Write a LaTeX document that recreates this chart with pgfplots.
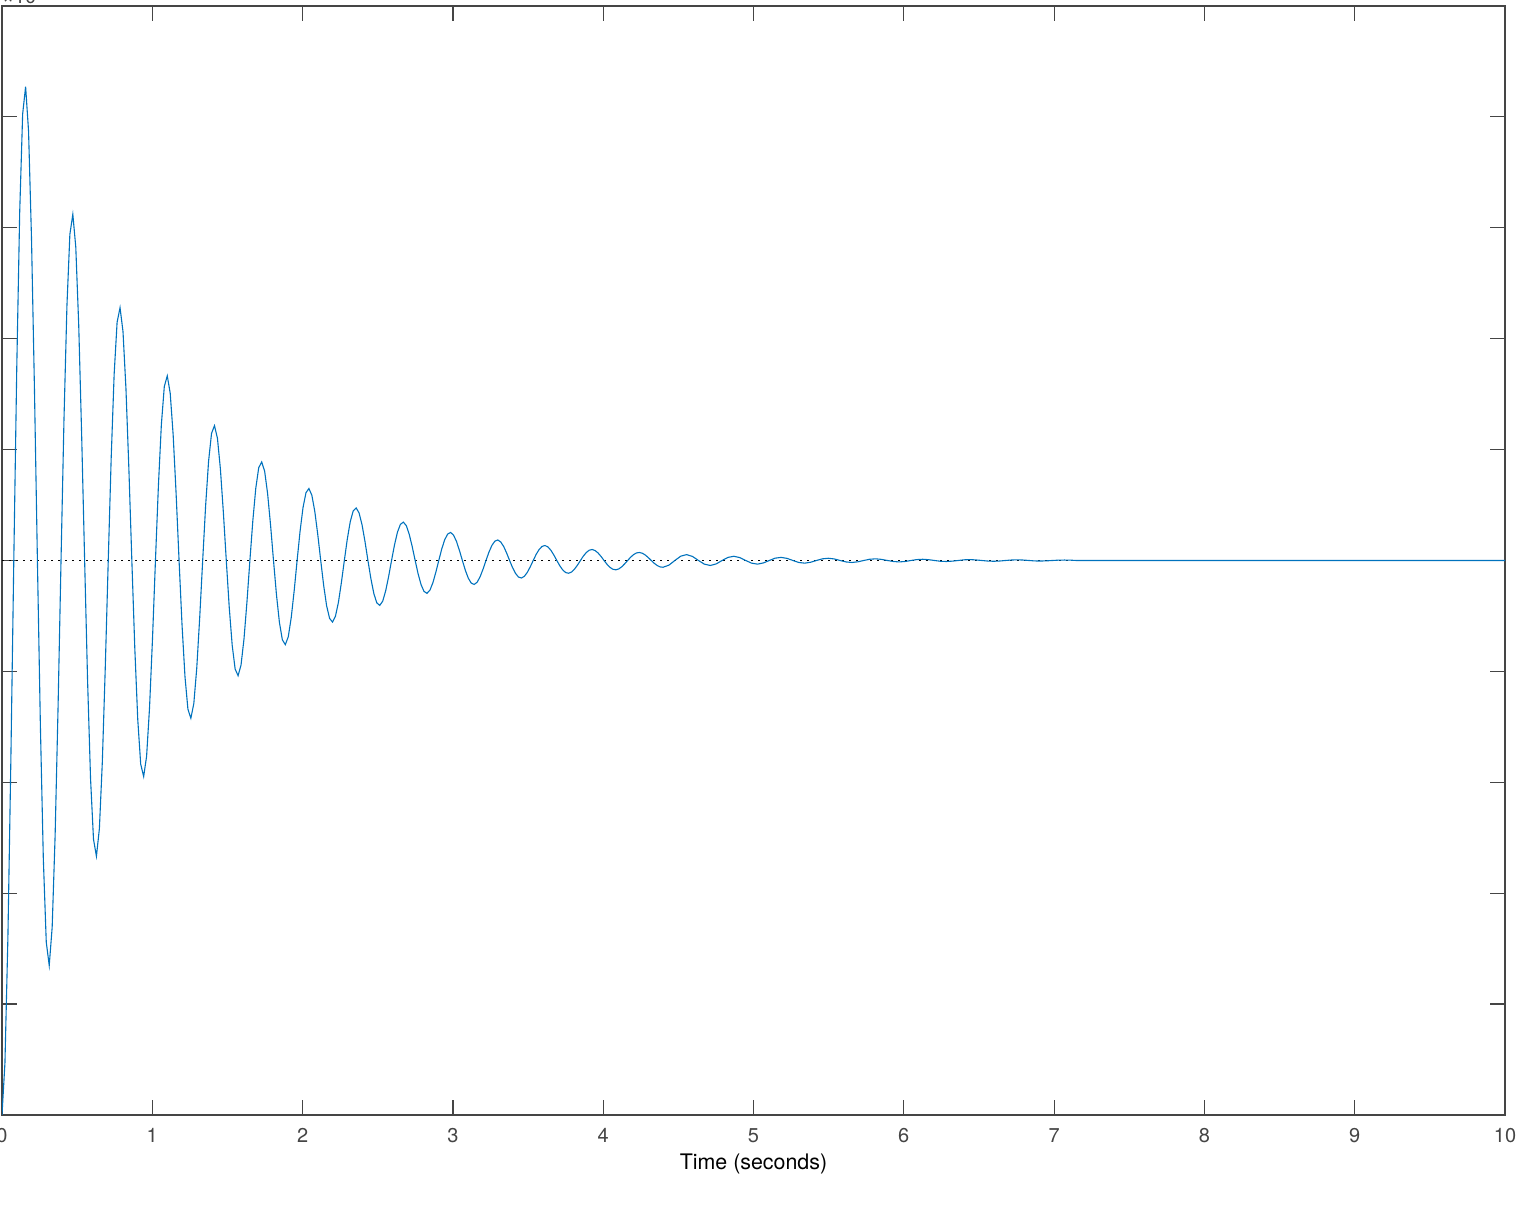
\documentclass[border=0pt]{standalone}
\usepackage{fontspec}
\setmainfont{TeX Gyre Heros}
\usepackage{pgfplots}
\usepackage{pgfplotstable}
\pgfplotsset{compat=1.18}
\definecolor{mblue}{rgb}{0,0.447,0.741}
\definecolor{axgray}{rgb}{0.27,0.27,0.27}
\pgfplotstableread{
t y
0.0000 -5.000
0.0196 -4.530
0.0393 -3.399
0.0589 -1.804
0.0785 0
0.0982 1.735
0.1178 3.143
0.1374 4.026
0.1571 4.273
0.1767 3.871
0.1963 2.905
0.2160 1.542
0.2356 0
0.2553 -1.482
0.2749 -2.686
0.2945 -3.441
0.3142 -3.652
0.3338 -3.308
0.3534 -2.483
0.3731 -1.318
0.3927 0
0.4123 1.267
0.4320 2.295
0.4516 2.941
0.4712 3.121
0.4909 2.827
0.5105 2.122
0.5301 1.126
0.5498 0
0.5694 -1.083
0.5890 -1.962
0.6087 -2.513
0.6283 -2.667
0.6480 -2.417
0.6676 -1.814
0.6872 -0.962
0.7069 0
0.7265 0.925
0.7461 1.677
0.7658 2.148
0.7854 2.280
0.8050 2.065
0.8247 1.550
0.8443 0.822
0.8639 0
0.8836 -0.791
0.9032 -1.433
0.9228 -1.836
0.9425 -1.948
0.9621 -1.765
0.9817 -1.325
1.0014 -0.703
1.0210 0
1.0407 0.676
1.0603 1.225
1.0799 1.569
1.0996 1.665
1.1192 1.508
1.1388 1.132
1.1585 0.601
1.1781 0
1.1977 -0.578
1.2174 -1.047
1.2370 -1.341
1.2566 -1.423
1.2763 -1.289
1.2959 -0.968
1.3155 -0.513
1.3352 0
1.3548 0.494
1.3744 0.894
1.3941 1.146
1.4137 1.216
1.4334 1.102
1.4530 0.827
1.4726 0.439
1.4923 0
1.5119 -0.422
1.5315 -0.764
1.5512 -0.979
1.5708 -1.039
1.5904 -0.942
1.6101 -0.707
1.6297 -0.375
1.6493 0
1.6690 0.361
1.6886 0.653
1.7082 0.837
1.7279 0.888
1.7475 0.805
1.7671 0.604
1.7868 0.320
1.8064 0
1.8261 -0.308
1.8457 -0.558
1.8653 -0.715
1.8850 -0.759
1.9046 -0.688
1.9242 -0.516
1.9439 -0.274
1.9635 0
1.9831 0.263
2.0028 0.477
2.0224 0.611
2.0420 0.649
2.0617 0.588
2.0813 0.441
2.1009 0.234
2.1206 0
2.1402 -0.225
2.1598 -0.408
2.1795 -0.522
2.1991 -0.555
2.2187 -0.502
2.2384 -0.377
2.2580 -0.200
2.2777 0
2.2973 0.192
2.3169 0.349
2.3366 0.447
2.3562 0.474
2.3758 0.429
2.3955 0.322
2.4151 0.171
2.4347 0
2.4544 -0.164
2.4740 -0.298
2.4936 -0.382
2.5133 -0.405
2.5329 -0.367
2.5525 -0.275
2.5722 -0.146
2.5918 0
2.6114 0.140
2.6311 0.255
2.6507 0.326
2.6704 0.346
2.6900 0.314
2.7096 0.235
2.7293 0.125
2.7489 0
2.7685 -0.120
2.7882 -0.218
2.8078 -0.279
2.8274 -0.296
2.8471 -0.268
2.8667 -0.201
2.8863 -0.107
2.9060 0
2.9256 0.103
2.9452 0.186
2.9649 0.238
2.9845 0.253
3.0041 0.229
3.0238 0.172
3.0434 0.091
3.0631 0
3.0827 -0.088
3.1023 -0.159
3.1220 -0.204
3.1416 -0.216
3.1612 -0.196
3.1809 -0.147
3.2005 -0.078
3.2201 0
3.2398 0.075
3.2594 0.136
3.2790 0.174
3.2987 0.185
3.3183 0.167
3.3379 0.126
3.3576 0.067
3.3772 0
3.3968 -0.064
3.4165 -0.116
3.4361 -0.149
3.4558 -0.158
3.4754 -0.143
3.4950 -0.107
3.5147 -0.057
3.5343 0
3.5539 0.055
3.5736 0.099
3.5932 0.127
3.6128 0.135
3.6325 0.122
3.6521 0.092
3.6717 0.049
3.6914 0
3.7110 -0.047
3.7306 -0.085
3.7503 -0.109
3.7699 -0.115
3.7895 -0.104
3.8092 -0.078
3.8288 -0.042
3.8485 0
3.8681 0.040
3.8877 0.072
3.9074 0.093
3.9270 0.099
3.9466 0.089
3.9663 0.067
3.9859 0.036
4.0055 0
4.0252 -0.034
4.0448 -0.062
4.0644 -0.079
4.0841 -0.084
4.1037 -0.076
4.1233 -0.057
4.1430 -0.030
4.1626 0
4.1822 0.029
4.2019 0.053
4.2215 0.068
4.2412 0.072
4.2608 0.065
4.2804 0.049
4.3001 0.026
4.3197 0
4.3393 -0.025
4.3590 -0.045
4.3786 -0.058
4.3982 -0.061
4.4375 -0.042
4.4768 0
4.5160 0.039
4.5553 0.053
4.5946 0.036
4.6338 0
4.6731 -0.033
4.7124 -0.045
4.7517 -0.031
4.7909 0
4.8302 0.028
4.8695 0.038
4.9087 0.026
4.9480 0
4.9873 -0.024
5.0265 -0.033
5.0658 -0.022
5.1051 0
5.1444 0.021
5.1836 0.028
5.2229 0.019
5.2622 0
5.3014 -0.018
5.3407 -0.024
5.3800 -0.016
5.4193 0
5.4585 0.015
5.4978 0.020
5.5371 0.014
5.5763 0
5.6156 -0.013
5.6549 -0.018
5.6941 -0.012
5.7334 0
5.7727 0.011
5.8119 0.015
5.8512 0.010
5.8905 0
5.9298 -0.009
5.9690 -0.013
6.0083 -0.009
6.0476 0
6.0868 0.008
6.1261 0.011
6.1654 0.007
6.2046 0
6.2439 -0.007
6.2832 -0.009
6.3225 -0.006
6.3617 0
6.4010 0.006
6.4403 0.008
6.4795 0.005
6.5188 0
6.5581 -0.005
6.5973 -0.007
6.6366 -0.005
6.6759 0
6.7151 0.004
6.7544 0.006
6.7937 0.004
6.8329 0
6.8722 -0.004
6.9115 -0.005
6.9508 -0.003
6.9900 0
7.0293 0.003
7.0686 0.004
7.1079 0.003
7.1471 0
10.000 0
}\response
\begin{document}
\begin{tikzpicture}
\begin{axis}[
  scale only axis,
  width=751.5pt, height=554.5pt,
  xmin=0, xmax=10, ymin=-5, ymax=5,
  xtick={0,1,...,10},
  ytick={-5,-4,...,5},
  yticklabels={},
  tick align=inside,
  major tick length=7.5pt,
  axis line style={axgray, line width=0.6pt},
  every tick/.style={axgray, line width=0.6pt},
  tick label style={text=axgray, font=\fontsize{10}{12}\selectfont},
  /pgf/number format/assume math mode=true,
  xticklabel style={yshift=-3.2pt},
  xlabel={Time (seconds)},
  xlabel style={font=\fontsize{10.7}{12.8}\selectfont, text=black, yshift=1.5pt},
  clip=true,
]
\addplot[black, line width=0.75pt, dash pattern=on 1pt off 2.5pt] coordinates {(0,0) (10,0)};
\addplot[mblue, line width=0.55pt] table[x=t, y=y] {\response};
\end{axis}
\node[anchor=base west, text=axgray, font=\fontsize{10}{12}\selectfont, inner sep=0pt]
  at ([yshift=1pt]current axis.north west) {×10\textsuperscript{-3}};
\pgfresetboundingbox
\useasboundingbox ([xshift=-1pt,yshift=-47.5pt]current axis.south west) rectangle ([xshift=17pt,yshift=3pt]current axis.north east);
\end{tikzpicture}
\end{document}
